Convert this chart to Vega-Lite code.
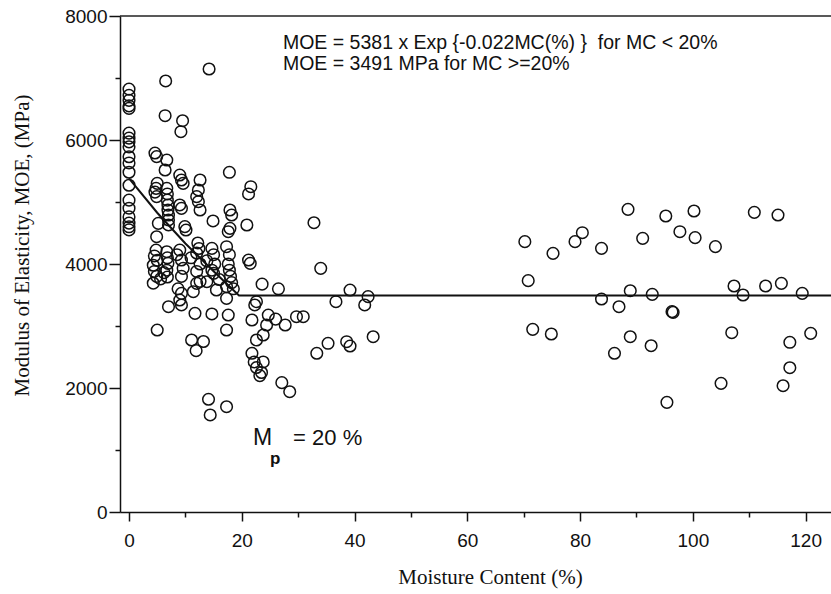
{
  "$schema": "https://vega.github.io/schema/vega-lite/v6.json",
  "width": 711,
  "height": 496,
  "autosize": {"type": "none"},
  "padding": {"left": 120, "top": 16, "right": 0, "bottom": 82},
  "background": "white",
  "config": {
    "view": {"stroke": null},
    "axis": {"grid": false, "domainColor": "#111", "tickColor": "#111", "labelColor": "#111", "titleColor": "#111", "domainWidth": 1.5, "tickWidth": 1.5}
  },
  "datasets": {
    "pts": [
      {"mc": 0, "moe": 6820}, {"mc": 0, "moe": 6720}, {"mc": 0, "moe": 6640}, {"mc": 0, "moe": 6550}, {"mc": 0, "moe": 6510},
      {"mc": 0, "moe": 6110}, {"mc": 0, "moe": 6030}, {"mc": 0, "moe": 5970}, {"mc": 0, "moe": 5890}, {"mc": 0, "moe": 5730},
      {"mc": 0, "moe": 5630}, {"mc": 0, "moe": 5480}, {"mc": 0, "moe": 5270}, {"mc": 0, "moe": 5030}, {"mc": 0, "moe": 4900},
      {"mc": 0, "moe": 4760}, {"mc": 0, "moe": 4660}, {"mc": 0, "moe": 4600}, {"mc": 0, "moe": 4550},
      {"mc": 4.6, "moe": 5790}, {"mc": 4.9, "moe": 5731}, {"mc": 5.0, "moe": 5300}, {"mc": 4.8, "moe": 5220}, {"mc": 4.6, "moe": 5160},
      {"mc": 4.9, "moe": 5086}, {"mc": 5.2, "moe": 4656}, {"mc": 4.9, "moe": 4440}, {"mc": 4.8, "moe": 4225}, {"mc": 4.5, "moe": 4130},
      {"mc": 5.0, "moe": 4060}, {"mc": 4.3, "moe": 3980}, {"mc": 4.5, "moe": 3880}, {"mc": 4.9, "moe": 3800}, {"mc": 4.3, "moe": 3690},
      {"mc": 5.0, "moe": 2935},
      {"mc": 6.5, "moe": 6952}, {"mc": 6.4, "moe": 6392}, {"mc": 6.7, "moe": 5677}, {"mc": 6.4, "moe": 5516}, {"mc": 6.7, "moe": 5220},
      {"mc": 6.8, "moe": 5130}, {"mc": 6.8, "moe": 5030}, {"mc": 6.9, "moe": 4950}, {"mc": 6.9, "moe": 4870}, {"mc": 7.0, "moe": 4790},
      {"mc": 7.0, "moe": 4710}, {"mc": 7.0, "moe": 4630}, {"mc": 6.7, "moe": 4198}, {"mc": 6.8, "moe": 4100}, {"mc": 6.9, "moe": 4011},
      {"mc": 6.7, "moe": 3900}, {"mc": 6.8, "moe": 3790}, {"mc": 7.0, "moe": 3311}, {"mc": 5.6, "moe": 3760}, {"mc": 6.2, "moe": 3860},
      {"mc": 9.5, "moe": 6311}, {"mc": 9.2, "moe": 6134}, {"mc": 9.0, "moe": 5435}, {"mc": 9.3, "moe": 5355}, {"mc": 9.6, "moe": 5301},
      {"mc": 9.0, "moe": 4952}, {"mc": 9.3, "moe": 4898}, {"mc": 9.9, "moe": 4602}, {"mc": 10.1, "moe": 4548}, {"mc": 9.0, "moe": 4225},
      {"mc": 9.3, "moe": 4064}, {"mc": 9.6, "moe": 3930}, {"mc": 9.3, "moe": 3800}, {"mc": 9.0, "moe": 3419}, {"mc": 9.3, "moe": 3339},
      {"mc": 9.3, "moe": 3527}, {"mc": 8.7, "moe": 3600}, {"mc": 8.5, "moe": 4150},
      {"mc": 12.6, "moe": 5355}, {"mc": 12.3, "moe": 5194}, {"mc": 12.0, "moe": 5086}, {"mc": 12.3, "moe": 5005}, {"mc": 12.6, "moe": 4871},
      {"mc": 12.2, "moe": 4339}, {"mc": 12.4, "moe": 4250}, {"mc": 12.0, "moe": 4177}, {"mc": 12.6, "moe": 4000}, {"mc": 12.0, "moe": 3880},
      {"mc": 12.6, "moe": 3720}, {"mc": 12.0, "moe": 3688}, {"mc": 11.4, "moe": 3553}, {"mc": 11.7, "moe": 3204}, {"mc": 11.1, "moe": 2774},
      {"mc": 13.2, "moe": 2750}, {"mc": 11.9, "moe": 2602}, {"mc": 11.0, "moe": 4100},
      {"mc": 14.2, "moe": 7145}, {"mc": 14.9, "moe": 4694}, {"mc": 14.7, "moe": 4252}, {"mc": 15.0, "moe": 4150}, {"mc": 15.2, "moe": 4000},
      {"mc": 14.7, "moe": 3900}, {"mc": 15.0, "moe": 3850}, {"mc": 13.8, "moe": 3714}, {"mc": 15.5, "moe": 3580}, {"mc": 14.7, "moe": 3194},
      {"mc": 14.1, "moe": 1818}, {"mc": 14.4, "moe": 1565}, {"mc": 13.8, "moe": 4050}, {"mc": 16.0, "moe": 3750},
      {"mc": 17.8, "moe": 5479}, {"mc": 17.9, "moe": 4871}, {"mc": 18.2, "moe": 4790}, {"mc": 17.9, "moe": 4575}, {"mc": 17.6, "moe": 4521},
      {"mc": 17.3, "moe": 4279}, {"mc": 17.8, "moe": 4150}, {"mc": 17.6, "moe": 4000}, {"mc": 17.8, "moe": 3900}, {"mc": 18.0, "moe": 3800},
      {"mc": 18.2, "moe": 3700}, {"mc": 17.3, "moe": 3634}, {"mc": 17.3, "moe": 3446}, {"mc": 17.6, "moe": 3177}, {"mc": 17.3, "moe": 2935},
      {"mc": 17.3, "moe": 1698}, {"mc": 18.5, "moe": 3600},
      {"mc": 21.6, "moe": 5247}, {"mc": 21.2, "moe": 5130}, {"mc": 20.9, "moe": 4629}, {"mc": 21.2, "moe": 4064}, {"mc": 21.5, "moe": 4011},
      {"mc": 23.6, "moe": 3675}, {"mc": 22.6, "moe": 3392}, {"mc": 22.3, "moe": 3339}, {"mc": 21.8, "moe": 3097},
      {"mc": 26.5, "moe": 3600}, {"mc": 24.7, "moe": 3177}, {"mc": 24.4, "moe": 3016}, {"mc": 26.0, "moe": 3110}, {"mc": 27.7, "moe": 3016},
      {"mc": 29.7, "moe": 3150}, {"mc": 22.6, "moe": 2774}, {"mc": 23.8, "moe": 2855}, {"mc": 21.8, "moe": 2560}, {"mc": 22.2, "moe": 2420},
      {"mc": 23.8, "moe": 2420}, {"mc": 22.6, "moe": 2330}, {"mc": 23.5, "moe": 2250}, {"mc": 23.2, "moe": 2200}, {"mc": 27.1, "moe": 2086},
      {"mc": 28.5, "moe": 1940},
      {"mc": 30.9, "moe": 3150}, {"mc": 32.8, "moe": 4666}, {"mc": 34.0, "moe": 3930}, {"mc": 39.2, "moe": 3580}, {"mc": 36.7, "moe": 3392},
      {"mc": 42.4, "moe": 3473}, {"mc": 41.8, "moe": 3339}, {"mc": 33.3, "moe": 2560}, {"mc": 35.3, "moe": 2721}, {"mc": 38.6, "moe": 2747},
      {"mc": 39.2, "moe": 2677}, {"mc": 43.3, "moe": 2827},
      {"mc": 70.2, "moe": 4360}, {"mc": 75.2, "moe": 4172}, {"mc": 70.8, "moe": 3731}, {"mc": 71.6, "moe": 2946}, {"mc": 74.9, "moe": 2871},
      {"mc": 79.1, "moe": 4360}, {"mc": 80.4, "moe": 4505}, {"mc": 83.8, "moe": 4253}, {"mc": 88.5, "moe": 4882}, {"mc": 91.1, "moe": 4414},
      {"mc": 95.2, "moe": 4774}, {"mc": 97.7, "moe": 4521}, {"mc": 100.2, "moe": 4855}, {"mc": 100.4, "moe": 4425}, {"mc": 104.0, "moe": 4280},
      {"mc": 110.9, "moe": 4833}, {"mc": 115.1, "moe": 4790}, {"mc": 83.8, "moe": 3435}, {"mc": 86.9, "moe": 3311}, {"mc": 88.9, "moe": 3569},
      {"mc": 92.8, "moe": 3511}, {"mc": 96.3, "moe": 3231}, {"mc": 96.5, "moe": 3220}, {"mc": 107.3, "moe": 3645}, {"mc": 108.9, "moe": 3500},
      {"mc": 112.9, "moe": 3645}, {"mc": 115.7, "moe": 3688}, {"mc": 119.4, "moe": 3527}, {"mc": 88.9, "moe": 2827}, {"mc": 86.1, "moe": 2560},
      {"mc": 92.6, "moe": 2682}, {"mc": 106.9, "moe": 2892}, {"mc": 117.2, "moe": 2737}, {"mc": 120.9, "moe": 2882}, {"mc": 117.2, "moe": 2327},
      {"mc": 105.0, "moe": 2075}, {"mc": 116.0, "moe": 2037}, {"mc": 95.4, "moe": 1769}
    ],
    "fit": [
      {"mc": 0, "moe": 5381}, {"mc": 5, "moe": 4827}, {"mc": 10, "moe": 4330}, {"mc": 15, "moe": 3884},
      {"mc": 19.5, "moe": 3491}, {"mc": 124.5, "moe": 3491}
    ]
  },
  "layer": [
    {
      "data": {"name": "pts"},
      "mark": {"type": "point", "shape": "circle", "filled": false, "size": 135, "stroke": "#111", "strokeWidth": 1.5, "opacity": 1},
      "encoding": {
        "x": {
          "field": "mc", "type": "quantitative",
          "scale": {"domain": [-1.6, 124.5], "nice": false, "zero": false},
          "axis": {
            "values": [0, 10, 20, 30, 40, 50, 60, 70, 80, 90, 100, 110, 120],
            "format": "d",
            "labelExpr": "datum.value % 20 === 0 ? datum.label : ''",
            "tickSize": {"condition": {"test": "datum.value % 20 === 0", "value": 9}, "value": 5},
            "labelFont": "Liberation Sans", "labelFontSize": 19, "labelPadding": 10,
            "title": "Moisture Content (%)",
            "titleFont": "Liberation Serif", "titleFontSize": 21, "titleFontWeight": "normal",
            "titleX": 370, "titleY": 65, "titleAlign": "center", "titleBaseline": "middle"
          }
        },
        "y": {
          "field": "moe", "type": "quantitative",
          "scale": {"domain": [0, 8000], "nice": false},
          "axis": {
            "values": [0, 1000, 2000, 3000, 4000, 5000, 6000, 7000, 8000],
            "format": "d",
            "labelExpr": "datum.value % 2000 === 0 ? datum.label : ''",
            "tickSize": {"condition": {"test": "datum.value % 2000 === 0", "value": 11}, "value": 5},
            "labelFont": "Liberation Sans", "labelFontSize": 19, "labelPadding": 2,
            "title": "Modulus of Elasticity, MOE, (MPa)",
            "titleFont": "Liberation Serif", "titleFontSize": 21, "titleFontWeight": "normal",
            "titleAngle": -90, "titleX": -98, "titleY": 229, "titleAlign": "center", "titleBaseline": "middle"
          }
        }
      }
    },
    {
      "data": {"name": "fit"},
      "mark": {"type": "line", "color": "#111", "strokeWidth": 2},
      "encoding": {
        "x": {"field": "mc", "type": "quantitative"},
        "y": {"field": "moe", "type": "quantitative"}
      }
    },
    {
      "data": {"values": [{"v": 8000}]},
      "mark": {"type": "rule", "color": "#222", "strokeWidth": 1.5},
      "encoding": {"y": {"field": "v", "type": "quantitative"}}
    },
    {
      "data": {"values": [{"label": "MOE = 5381 x Exp {-0.022MC(%) }\u00a0 for MC < 20%"}]},
      "mark": {"type": "text", "align": "left", "baseline": "middle", "font": "Liberation Sans", "fontSize": 19.5, "color": "#111"},
      "encoding": {"x": {"datum": 27.3}, "y": {"datum": 7560}, "text": {"field": "label"}}
    },
    {
      "data": {"values": [{"label": "MOE = 3491 MPa for MC >=20%"}]},
      "mark": {"type": "text", "align": "left", "baseline": "middle", "font": "Liberation Sans", "fontSize": 19.5, "color": "#111"},
      "encoding": {"x": {"datum": 27.3}, "y": {"datum": 7230}, "text": {"field": "label"}}
    },
    {
      "data": {"values": [{"label": "M"}]},
      "mark": {"type": "text", "align": "left", "baseline": "middle", "font": "Liberation Sans", "fontSize": 23, "color": "#111"},
      "encoding": {"x": {"datum": 22}, "y": {"datum": 1194}, "text": {"field": "label"}}
    },
    {
      "data": {"values": [{"label": "p"}]},
      "mark": {"type": "text", "align": "left", "baseline": "middle", "font": "Liberation Sans", "fontSize": 17, "fontWeight": "bold", "color": "#111"},
      "encoding": {"x": {"datum": 25}, "y": {"datum": 855}, "text": {"field": "label"}}
    },
    {
      "data": {"values": [{"label": "= 20 %"}]},
      "mark": {"type": "text", "align": "left", "baseline": "middle", "font": "Liberation Sans", "fontSize": 22, "color": "#111"},
      "encoding": {"x": {"datum": 29.1}, "y": {"datum": 1194}, "text": {"field": "label"}}
    }
  ]
}
